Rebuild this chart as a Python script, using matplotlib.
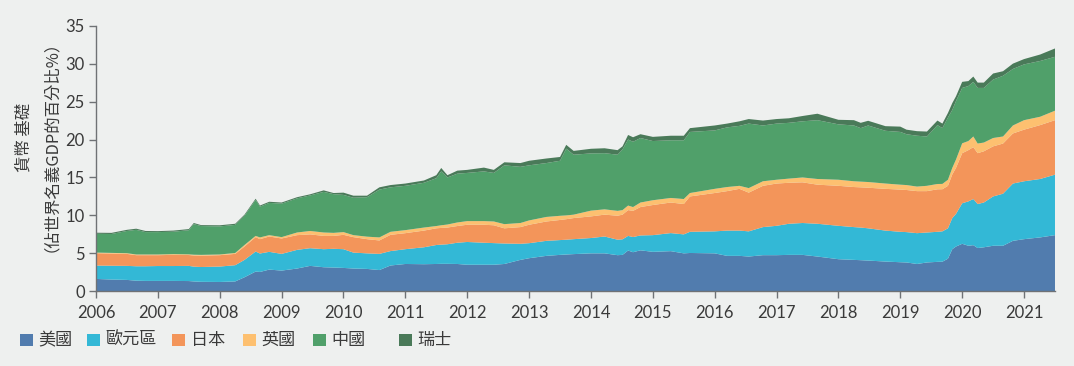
import matplotlib
matplotlib.use("Agg")
import matplotlib.pyplot as plt
from matplotlib.patches import Rectangle
import numpy as np

plt.rcParams['font.family'] = ['Lato', 'Noto Sans CJK TC', 'DejaVu Sans']

# decimal years
years = [2006.00, 2006.25, 2006.50, 2006.65, 2006.80, 2007.00, 2007.25, 2007.50, 2007.58, 2007.70,
         2008.00, 2008.25, 2008.40, 2008.58, 2008.65, 2008.80, 2009.00, 2009.25, 2009.46, 2009.68,
         2009.84, 2010.00, 2010.16, 2010.38, 2010.58, 2010.76, 2011.00, 2011.30, 2011.50, 2011.58,
         2011.68, 2011.84, 2012.00, 2012.27, 2012.43, 2012.60, 2012.86, 2013.00, 2013.28, 2013.50,
         2013.60, 2013.72, 2014.00, 2014.22, 2014.43, 2014.51, 2014.60, 2014.68, 2014.80, 2015.00,
         2015.29, 2015.50, 2015.60, 2016.00, 2016.20, 2016.40, 2016.55, 2016.78, 2017.00, 2017.20,
         2017.42, 2017.66, 2018.00, 2018.25, 2018.36, 2018.48, 2018.76, 2019.00, 2019.10, 2019.27,
         2019.43, 2019.60, 2019.68, 2019.77, 2019.84, 2019.90, 2020.00, 2020.10, 2020.18, 2020.25,
         2020.35, 2020.50, 2020.66, 2020.82, 2021.00, 2021.26, 2021.50]

us = [1.63, 1.55, 1.50, 1.40, 1.37, 1.37, 1.37, 1.35, 1.30, 1.25,
      1.23, 1.30, 1.85, 2.60, 2.55, 2.86, 2.73, 3.00, 3.35, 3.17,
      3.13, 3.08, 3.00, 2.95, 2.80, 3.40, 3.60, 3.57, 3.60, 3.62,
      3.62, 3.60, 3.50, 3.50, 3.50, 3.60, 4.14, 4.36, 4.67, 4.80,
      4.85, 4.90, 5.00, 5.00, 4.76, 4.80, 5.37, 5.15, 5.40, 5.20,
      5.29, 5.00, 5.05, 5.00, 4.67, 4.67, 4.58, 4.76, 4.76, 4.80,
      4.80, 4.58, 4.23, 4.14, 4.10, 4.05, 3.92, 3.83, 3.80, 3.60,
      3.80, 3.88, 3.90, 4.30, 5.55, 5.90, 6.26, 6.00, 6.08, 5.70,
      5.80, 6.00, 6.00, 6.65, 6.87, 7.10, 7.40]

euro = [1.76, 1.82, 1.85, 1.90, 1.93, 1.96, 1.96, 2.00, 1.95, 1.95,
        2.03, 2.14, 2.29, 2.64, 2.43, 2.34, 2.20, 2.46, 2.33, 2.38,
        2.47, 2.47, 2.10, 2.05, 2.13, 1.90, 1.95, 2.23, 2.50, 2.53,
        2.58, 2.80, 3.00, 2.90, 2.85, 2.70, 2.12, 1.98, 1.98, 1.95,
        1.95, 1.97, 2.02, 2.22, 2.04, 2.05, 1.93, 2.00, 1.96, 2.20,
        2.38, 2.50, 2.79, 2.90, 3.33, 3.33, 3.32, 3.70, 3.87, 4.10,
        4.20, 4.32, 4.40, 4.32, 4.30, 4.25, 4.08, 4.01, 4.00, 4.06,
        3.95, 3.96, 4.00, 4.00, 4.10, 4.30, 5.34, 5.85, 6.08, 5.80,
        5.90, 6.50, 6.86, 7.55, 7.63, 7.70, 7.97]

japan = [1.63, 1.61, 1.58, 1.46, 1.46, 1.43, 1.47, 1.43, 1.47, 1.50,
         1.50, 1.49, 1.76, 1.90, 1.89, 2.02, 2.03, 1.94, 1.82, 1.75,
         1.70, 1.89, 2.04, 1.87, 1.77, 2.14, 2.11, 2.20, 2.20, 2.20,
         2.20, 2.20, 2.27, 2.37, 2.35, 2.00, 2.20, 2.43, 2.55, 2.65,
         2.70, 2.78, 2.85, 2.88, 3.16, 3.25, 3.40, 3.45, 3.74, 3.97,
         4.03, 4.00, 4.66, 5.05, 5.20, 5.50, 5.10, 5.44, 5.57, 5.40,
         5.36, 5.15, 5.27, 5.28, 5.30, 5.35, 5.50, 5.56, 5.55, 5.54,
         5.45, 5.60, 5.55, 5.60, 5.75, 6.06, 6.60, 6.75, 6.84, 6.70,
         6.75, 6.60, 6.61, 6.60, 6.80, 7.10, 7.18]

uk = [0.08, 0.08, 0.09, 0.09, 0.09, 0.09, 0.10, 0.09, 0.10, 0.10,
      0.09, 0.12, 0.20, 0.16, 0.23, 0.18, 0.18, 0.35, 0.45, 0.45,
      0.40, 0.36, 0.26, 0.33, 0.40, 0.40, 0.40, 0.40, 0.30, 0.35,
      0.40, 0.47, 0.48, 0.48, 0.50, 0.55, 0.54, 0.57, 0.60, 0.55,
      0.50, 0.45, 0.76, 0.70, 0.64, 0.60, 0.60, 0.50, 0.60, 0.63,
      0.60, 0.66, 0.45, 0.55, 0.54, 0.40, 0.60, 0.60, 0.50, 0.55,
      0.64, 0.75, 0.80, 0.76, 0.75, 0.75, 0.70, 0.65, 0.65, 0.60,
      0.70, 0.70, 0.70, 0.80, 0.86, 1.10, 1.30, 1.20, 1.40, 1.27,
      1.15, 1.10, 0.93, 1.05, 1.25, 1.10, 1.25]

china = [2.48, 2.49, 2.93, 3.25, 2.95, 2.95, 2.95, 3.18, 4.03, 3.80,
         3.70, 3.70, 3.85, 4.75, 4.05, 4.25, 4.41, 4.50, 4.68, 5.35,
         5.10, 4.90, 4.93, 5.20, 6.30, 5.86, 5.84, 5.90, 6.30, 7.10,
         6.20, 6.43, 6.35, 6.55, 6.40, 7.75, 7.40, 7.26, 7.10, 7.25,
         8.80, 7.90, 7.54, 7.40, 7.40, 8.00, 8.70, 8.60, 8.50, 7.80,
         7.60, 7.74, 8.05, 7.70, 7.86, 7.90, 8.50, 7.35, 7.40, 7.35,
         7.40, 7.75, 7.30, 7.35, 7.05, 7.45, 6.95, 6.95, 6.70, 6.70,
         6.50, 7.76, 7.35, 8.20, 7.64, 7.71, 7.30, 7.25, 7.20, 7.33,
         7.20, 7.70, 8.00, 7.45, 7.35, 7.35, 7.10]

swiss = [0.14, 0.15, 0.15, 0.15, 0.15, 0.13, 0.15, 0.15, 0.15, 0.12,
         0.15, 0.15, 0.15, 0.15, 0.15, 0.15, 0.15, 0.15, 0.15, 0.20,
         0.15, 0.30, 0.27, 0.20, 0.30, 0.30, 0.30, 0.30, 0.40, 0.45,
         0.30, 0.40, 0.40, 0.50, 0.40, 0.40, 0.50, 0.60, 0.60, 0.50,
         0.50, 0.50, 0.61, 0.65, 0.60, 0.40, 0.60, 0.60, 0.50, 0.55,
         0.60, 0.60, 0.50, 0.65, 0.50, 0.60, 0.60, 0.65, 0.60, 0.60,
         0.70, 0.85, 0.60, 0.70, 0.70, 0.62, 0.61, 0.70, 0.60, 0.60,
         0.65, 0.60, 0.60, 0.60, 0.90, 0.63, 0.80, 0.65, 0.70, 0.70,
         0.70, 0.80, 0.60, 0.70, 0.70, 0.85, 1.10]

series_names = ['美國', '歐元區', '日本', '英國', '中國', '瑞士']
colors = ['#517CAE', '#33B8D6', '#F3955A', '#FDC070', '#50A06A', '#4A7A59']
x_ticks = list(range(2006, 2022))
y_ticks = list(range(0, 36, 5))
ylabel = '貨幣 基礎\n（佔世界名義GDP的百分比%）'

W, H = 1074, 366
bg = '#EEF0EF'
fig = plt.figure(figsize=(W / 100, H / 100), dpi=100, facecolor=bg)
ax = fig.add_axes([0.0894, 0.2041, 0.8929, 0.7257], facecolor=bg)

ax.stackplot(years, us, euro, japan, uk, china, swiss, colors=colors,
             linewidth=0, edgecolor='none', antialiased=True)

ax.set_xlim(2006, 2021.5)
ax.set_ylim(0, 35)
ax.set_xticks(x_ticks)
ax.set_xticklabels([str(t) for t in x_ticks])
ax.set_yticks(y_ticks)
for s in ['top', 'right']:
    ax.spines[s].set_visible(False)
for s in ['left', 'bottom']:
    ax.spines[s].set_color('#6F7275')
    ax.spines[s].set_linewidth(1.0)
ax.tick_params(axis='both', colors='#6F7275', labelcolor='#3A3A3A',
               labelsize=12, length=5, width=1.0, direction='out')
ax.tick_params(axis='x', pad=5)
ax.tick_params(axis='y', pad=3)

fig.text(0.031, 0.624, ylabel, rotation=90, ha='center', va='center',
         fontsize=11.8, color='#3A3A3A', linespacing=1.05,
         family=['Noto Sans CJK TC', 'DejaVu Sans'])

# legend drawn manually at the reference's column positions (pixels)
legend_x = [20, 87, 172, 243, 313, 399]
sq = 12.5
y_center = 340
for lx, name, c in zip(legend_x, series_names, colors):
    fig.patches.append(Rectangle(((lx) / W, (H - y_center - sq / 2) / H), sq / W, sq / H,
                                 transform=fig.transFigure, facecolor=c, edgecolor='none'))
    fig.text((lx + sq + 6) / W, (H - y_center) / H, name, ha='left', va='center',
             fontsize=12.3, color='#3A3A3A', family=['Noto Sans CJK TC', 'DejaVu Sans'])

fig.savefig('out.png', dpi=100, facecolor=bg)
